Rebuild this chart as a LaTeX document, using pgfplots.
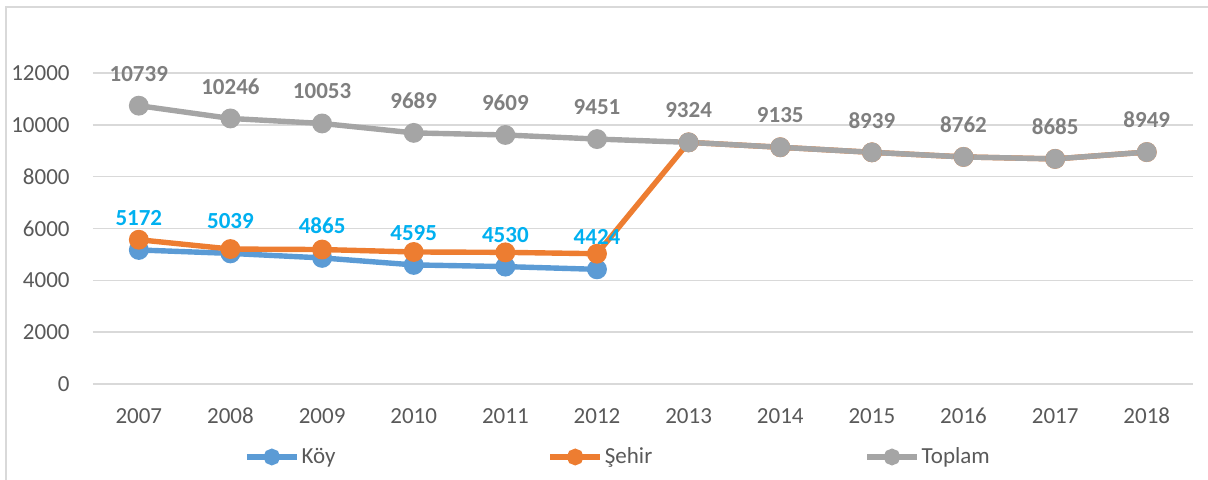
\documentclass[border=0pt]{standalone}
\usepackage{fontspec}
\setmainfont{Carlito}
\usepackage{pgfplots}
\pgfplotsset{compat=1.18}
\definecolor{koy}{HTML}{5B9BD5}
\definecolor{sehir}{HTML}{ED7D31}
\definecolor{topc}{HTML}{A5A5A5}
\definecolor{koylbl}{HTML}{00B0F0}
\definecolor{toplbl}{HTML}{7F7F7F}
\definecolor{tickc}{HTML}{595959}
\definecolor{gridc}{HTML}{D9D9D9}
\begin{document}
\begin{tikzpicture}
\useasboundingbox (-46.5pt,-48pt) rectangle (557.5pt,192pt);
\draw[gridc, line width=0.7pt] (-43.5pt,-48pt) -- (-43.5pt,188.5pt) -- (557.5pt,188.5pt);
\begin{axis}[
  at={(0pt,0pt)}, anchor=south west,
  scale only axis, width=549.8pt, height=155.5pt,
  xmin=-0.5, xmax=11.5, ymin=0, ymax=12000,
  xtick={0,1,2,3,4,5,6,7,8,9,10,11},
  xticklabels={2007,2008,2009,2010,2011,2012,2013,2014,2015,2016,2017,2018},
  ytick={0,2000,4000,6000,8000,10000,12000},
  scaled y ticks=false,
  ymajorgrids, grid style={gridc, line width=0.7pt},
  axis line style={draw=none}, major tick style={draw=none},
  tick label style={font=\fontsize{11.5}{13}\selectfont, text=tickc},
  /pgf/number format/assume math mode=true,
  /pgf/number format/fixed, /pgf/number format/precision=0,
  /pgf/number format/1000 sep={},
  xticklabel style={anchor=center, yshift=-16pt},
  yticklabel style={anchor=east, inner sep=0pt, xshift=-11.5pt},
  clip=false,
  legend columns=3,
  legend style={at={(0.4774,-0.2347)}, anchor=center, draw=none, fill=none,
    font=\fontsize{11.5}{13}\selectfont, text=tickc,
    /tikz/every even column/.append style={column sep=105pt},
    nodes={inner sep=1pt}},
  legend image code/.code={\draw[#1, mark repeat=2, mark phase=2, mark size=2.8pt] plot coordinates {(0pt,0pt)(12.5pt,0pt)(25pt,0pt)};},
]
\addplot[koy, line width=2.7pt, mark=*, mark size=3.6pt] coordinates {(0,5172)(1,5039)(2,4865)(3,4595)(4,4530)(5,4424)};
\addplot[sehir, line width=2.7pt, mark=*, mark size=3.6pt] coordinates {(0,5567)(1,5207)(2,5188)(3,5094)(4,5079)(5,5027)(6,9324)(7,9135)(8,8939)(9,8762)(10,8685)(11,8949)};
\addplot[topc, line width=2.7pt, mark=*, mark size=3.6pt] coordinates {(0,10739)(1,10246)(2,10053)(3,9689)(4,9609)(5,9451)(6,9324)(7,9135)(8,8939)(9,8762)(10,8685)(11,8949)};
\legend{Köy, Şehir, Toplam}
\addplot[draw=none, forget plot, nodes near coords, point meta=y,
  every node near coord/.append style={text=koylbl, font=\bfseries\fontsize{11.5}{13}\selectfont, anchor=center, yshift=16pt}]
  coordinates {(0,5172)(1,5039)(2,4865)(3,4595)(4,4530)(5,4424)};
\addplot[draw=none, forget plot, nodes near coords, point meta=y,
  every node near coord/.append style={text=toplbl, font=\bfseries\fontsize{11.5}{13}\selectfont, anchor=center, yshift=16pt}]
  coordinates {(0,10739)(1,10246)(2,10053)(3,9689)(4,9609)(5,9451)(6,9324)(7,9135)(8,8939)(9,8762)(10,8685)(11,8949)};
\end{axis}
\end{tikzpicture}
\end{document}
